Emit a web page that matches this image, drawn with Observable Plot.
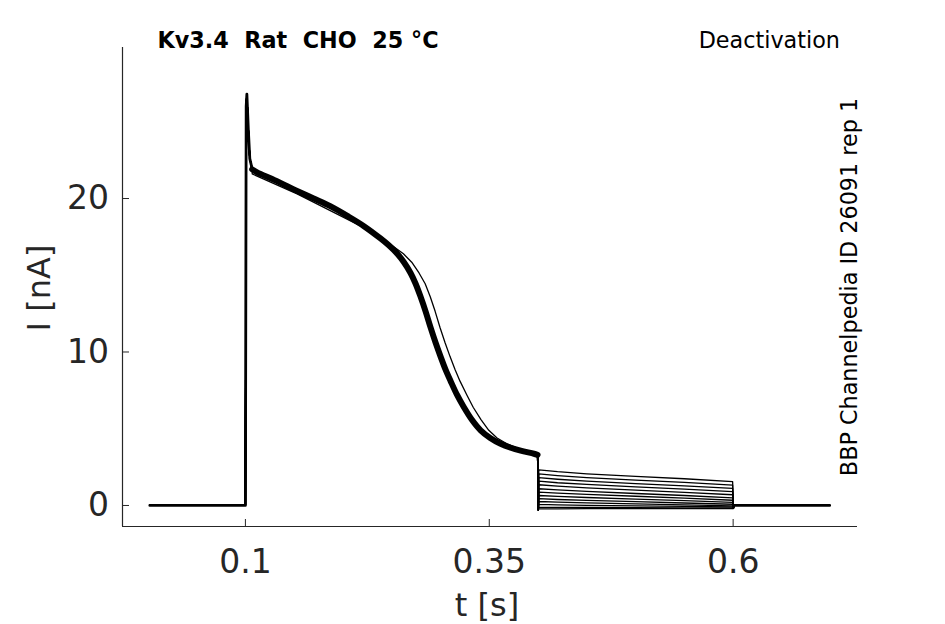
<!DOCTYPE html>
<html>
<head>
<meta charset="utf-8">
<script src="https://cdn.jsdelivr.net/npm/d3@7"></script>
<script src="https://cdn.jsdelivr.net/npm/@observablehq/plot@0.6"></script>
<style>
  body { margin: 0; background: #fff; }
  svg text { white-space: pre; }
</style>
</head>
<body>
<div id="chart"></div>
<script>
// ---- Data (time in s, current in nA) ----
const titleText = "Kv3.4  Rat  CHO  25 °C";
const protocolText = "Deactivation";
const sourceText = "BBP Channelpedia ID 26091 rep 1";
const xLabel = "t [s]";
const yLabel = "I [nA]";

const xTicks = [0.1, 0.35, 0.6];
const xTickLabels = ["0.1", "0.35", "0.6"];
const yTicks = [0, 10, 20];
const xDomain = [-0.026, 0.7275];
const yDomain = [-1.37, 29.84];

// holding before the pulse
const preT = [0.002, 0.1];
const preI = [0, 0];
// onset spike
const spikeT = [0.1, 0.1008, 0.1015, 0.103, 0.1045, 0.107];
const spikeI = [0, 26.0, 26.8, 24.5, 22.6, 21.9];
// inactivating current during the step (bundle of traces)
const actT = [0.107, 0.112, 0.130, 0.153, 0.170, 0.187, 0.205, 0.2215, 0.2385, 0.247, 0.2557, 0.2625, 0.2693, 0.2745, 0.2796, 0.2847, 0.2898, 0.295, 0.3001, 0.3052, 0.3104, 0.317, 0.324, 0.332, 0.3411, 0.351, 0.3616, 0.372, 0.3822, 0.3958, 0.3995];
const actI = [21.9, 21.7, 21.2, 20.5, 20.0, 19.5, 18.85, 18.2, 17.4, 16.95, 16.4, 15.85, 15.15, 14.45, 13.6, 12.65, 11.6, 10.6, 9.7, 8.85, 8.1, 7.2, 6.4, 5.6, 4.9, 4.4, 4.02, 3.76, 3.57, 3.37, 3.3];
// one trace lagging slightly behind the bundle
const lagT = [0.107, 0.153, 0.2215, 0.2385, 0.251, 0.262, 0.2705, 0.278, 0.2843, 0.2895, 0.2945, 0.2995, 0.3047, 0.3098, 0.315, 0.3200, 0.327, 0.3335, 0.3415, 0.3495, 0.358, 0.368, 0.385, 0.3958, 0.3995];
const lagI = [21.6, 20.3, 18.1, 17.45, 16.9, 16.4, 15.85, 15.15, 14.45, 13.6, 12.65, 11.6, 10.6, 9.7, 8.85, 8.1, 7.2, 6.4, 5.6, 4.9, 4.4, 4.02, 3.57, 3.37, 3.3];
// step edge at 0.4 s
const edgeT = [0.4003];
const edgeI = [-0.3];
// tail currents (deactivation), one row per trace
const tailT = [0.4008, 0.42, 0.45, 0.50, 0.55, 0.5995];
const tailI = [
  [2.32, 2.20, 2.06, 1.89, 1.74, 1.55],
  [2.06, 1.95, 1.82, 1.65, 1.50, 1.32],
  [1.81, 1.71, 1.59, 1.43, 1.28, 1.11],
  [1.58, 1.48, 1.37, 1.21, 1.06, 0.90],
  [1.35, 1.26, 1.15, 1.00, 0.86, 0.70],
  [1.09, 1.01, 0.92, 0.78, 0.65, 0.50],
  [0.87, 0.80, 0.72, 0.60, 0.48, 0.34],
  [0.65, 0.59, 0.52, 0.42, 0.31, 0.20],
  [0.44, 0.39, 0.33, 0.25, 0.16, 0.08],
  [0.26, 0.22, 0.17, 0.10, 0.04, -0.02],
  [0.07, 0.04, 0.01, -0.03, -0.06, -0.09],
  [-0.11, -0.12, -0.13, -0.14, -0.15, -0.15],
  [-0.22, -0.22, -0.21, -0.21, -0.20, -0.20]
];
// return to holding
const postT = [0.6002, 0.6008, 0.699];
const postI = [-0.15, 0, 0];

// ---- Build rows ----
const seg = (T, I, trace) => T.map((t, i) => ({trace, t, I: I[i]}));
const rows = [];
tailI.forEach((tail, k) => {
  const useLag = k === 0;
  rows.push(
    ...seg(preT, preI, k),
    ...seg(spikeT, spikeI, k),
    ...(useLag ? seg(lagT, lagI, k) : seg(actT, actI, k)),
    ...seg(edgeT, edgeI, k),
    ...seg(tailT, tail, k),
    ...seg(postT, postI, k)
  );
});
const onsetRows = [...seg(preT, preI, "on"), ...seg(spikeT, spikeI, "on")];
const bandRows = seg(actT, actI, "band");
const postRows = seg(postT, postI, "post");

const axisColor = "#262626";

const chart = Plot.plot({
  width: 945,
  height: 624,
  marginLeft: 122,
  marginRight: 88,
  marginTop: 47,
  marginBottom: 98,
  style: {fontFamily: "DejaVu Sans", fontSize: "33px", color: axisColor, background: "#fff", overflow: "visible"},
  x: {domain: xDomain},
  y: {domain: yDomain},
  marks: [
    Plot.ruleX([xDomain[0]], {stroke: axisColor, strokeWidth: 1.2}),
    Plot.ruleY([yDomain[0]], {stroke: axisColor, strokeWidth: 1.2}),
    Plot.axisX(xTicks, {tickSize: -7, tickPadding: 30, fontSize: 33, label: null,
      tickFormat: d => xTickLabels[xTicks.indexOf(d)]}),
    Plot.axisY(yTicks, {tickSize: -7, tickPadding: 20.5, fontSize: 33, label: null}),
    Plot.line(onsetRows, {x: "t", y: "I", stroke: "black", strokeWidth: 2.8}),
    Plot.line(bandRows, {x: "t", y: "I", stroke: "black", strokeWidth: 6, curve: "catmull-rom"}),
    Plot.line(postRows, {x: "t", y: "I", stroke: "black", strokeWidth: 2.8}),
    Plot.line(rows, {x: "t", y: "I", z: "trace", stroke: "black", strokeWidth: 1.3}),
    Plot.text([titleText], {frameAnchor: "top-left", textAnchor: "start", lineAnchor: "bottom",
      dx: 35, dy: 0, fontSize: 22.3, fontWeight: "bold", fill: "black"}),
    Plot.text([protocolText], {frameAnchor: "top-right", textAnchor: "end", lineAnchor: "bottom",
      dx: -17.5, dy: 0, fontSize: 22.3, fill: "black"}),
    Plot.text([sourceText], {frameAnchor: "right", textAnchor: "middle", lineAnchor: "bottom",
      rotate: -90, dx: -1, dy: 0, fontSize: 22.3, fill: "black"}),
    Plot.text([yLabel], {frameAnchor: "left", textAnchor: "middle", lineAnchor: "middle",
      rotate: -90, dx: -83, dy: 1, fontSize: 32, fill: axisColor}),
    Plot.text([xLabel], {frameAnchor: "bottom", textAnchor: "middle", lineAnchor: "bottom",
      dx: -3, dy: 89, fontSize: 32, fill: axisColor})
  ]
});
document.getElementById("chart").appendChild(chart);
</script>
</body>
</html>
